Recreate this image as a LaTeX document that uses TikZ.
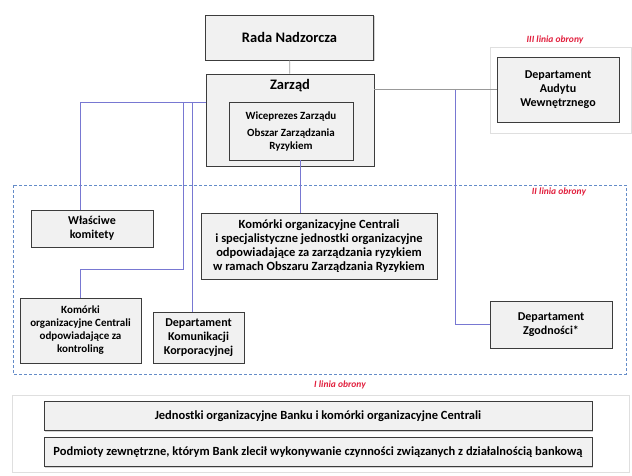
\documentclass[tikz,border=0pt]{standalone}
\usepackage{fontspec}
\setmainfont{Carlito}
\usetikzlibrary{shadows}
\definecolor{lineblue}{RGB}{120,120,210}
\definecolor{dashblue}{RGB}{100,140,200}
\definecolor{boxfill}{RGB}{241,241,241}
\definecolor{boxline}{RGB}{60,60,60}
\definecolor{redlabel}{RGB}{225,30,60}
\tikzset{
  orgbox/.style={draw=boxline, line width=0.9pt, fill=boxfill, align=center,
    inner sep=2pt, font=\bfseries\fontsize{12}{14}\selectfont,
    drop shadow={shadow xshift=1.2pt, shadow yshift=-1.2pt, opacity=0.35}},
  conn/.style={draw=lineblue, line width=0.7pt},
  grayconn/.style={draw=gray!80, line width=0.7pt},
  linelabel/.style={text=redlabel, font=\itshape\bfseries\fontsize{9.5}{10}\selectfont},
}
\begin{document}
\begin{tikzpicture}[x=1pt,y=-1pt]
\useasboundingbox (0,0) rectangle (632,475);
% frames of the lines of defence
\draw[gray!25, line width=0.8pt] (490,47) rectangle (631,133);
\draw[dashblue, dashed, line width=0.7pt, dash pattern=on 3pt off 2pt] (13,185) rectangle (626,374);
\draw[gray!25, line width=0.8pt] (12,395) rectangle (629,472);
\node[linelabel] (l3) at (555,40) {III linia obrony};
\node[linelabel] (l2) at (559,192) {II linia obrony};
\node[linelabel] (l1) at (340,385) {I linia obrony};
% boxes
\node[orgbox, minimum width=168pt, minimum height=45pt, font=\bfseries\fontsize{14.5}{16}\selectfont] (rada) at (289.5,37.5) {Rada Nadzorcza};
\node[orgbox, minimum width=168pt, minimum height=92pt] (zarzad) at (290,120) {};
\node[font=\bfseries\fontsize{14.5}{16}\selectfont] (zarzadt) at (290,86) {Zarząd};
\node[orgbox, minimum width=124pt, minimum height=58pt, drop shadow={opacity=0}, font=\bfseries\fontsize{11}{13}\selectfont] (inner) at (291,131)
  {Wiceprezes Zarządu\\[4pt]Obszar Zarządzania\\Ryzykiem};
\node[orgbox, minimum width=122pt, minimum height=65pt] (audyt) at (558,89.5) {Departament\\Audytu\\Wewnętrznego};
\node[orgbox, minimum width=122pt, minimum height=37pt] (komitety) at (92,228.5) {Właściwe\\komitety};
\node[orgbox, minimum width=236pt, minimum height=66pt, font=\bfseries\fontsize{12.5}{14}\selectfont] (komorki) at (319,246)
  {Komórki organizacyjne Centrali\\i specjalistyczne jednostki organizacyjne\\odpowiadające za zarządzania ryzykiem\\w ramach Obszaru Zarządzania Ryzykiem};
\node[orgbox, minimum width=121pt, minimum height=65pt, font=\bfseries\fontsize{11}{13}\selectfont] (kontroling) at (80.5,330.5)
  {Komórki\\organizacyjne Centrali\\odpowiadające za\\kontroling};
\node[orgbox, minimum width=91pt, minimum height=51pt] (komunikacja) at (198.5,337.5)
  {Departament\\Komunikacji\\Korporacyjnej};
\node[orgbox, minimum width=122pt, minimum height=47pt] (zgodnosc) at (551,324.5) {Departament\\Zgodności*};
\node[orgbox, minimum width=548pt, minimum height=29pt, font=\bfseries\fontsize{12.5}{14}\selectfont] (jednostki) at (318,416)
  {Jednostki organizacyjne Banku i komórki organizacyjne Centrali};
\node[orgbox, minimum width=548pt, minimum height=29pt, font=\bfseries\fontsize{12.5}{14}\selectfont] (podmioty) at (318,452)
  {Podmioty zewnętrzne, którym Bank zlecił wykonywanie czynności związanych z działalnością bankową};
% junction coordinates
\coordinate (zl) at (206,102);
\coordinate (v1) at (183,102);
\coordinate (v2) at (192,102);
\coordinate (v1b) at (183,269);
\coordinate (ja) at (455,89.5);
% connectors
\draw[grayconn] (rada) -- (zarzad);
\draw[grayconn] (audyt.west -| zarzad.east) -- (audyt.west);
\draw[conn] (ja) |- (zgodnosc.west);
\draw[conn] (zl) -| (komitety.north -| kontroling.north);
\draw[conn] (v1) -- (v1b) -| (kontroling.north);
\draw[conn] (v2) -- (v2 |- komunikacja.north);
\draw[conn] (inner.south -| 300,0) -- (komorki.north -| 300,0);
\end{tikzpicture}
\end{document}
